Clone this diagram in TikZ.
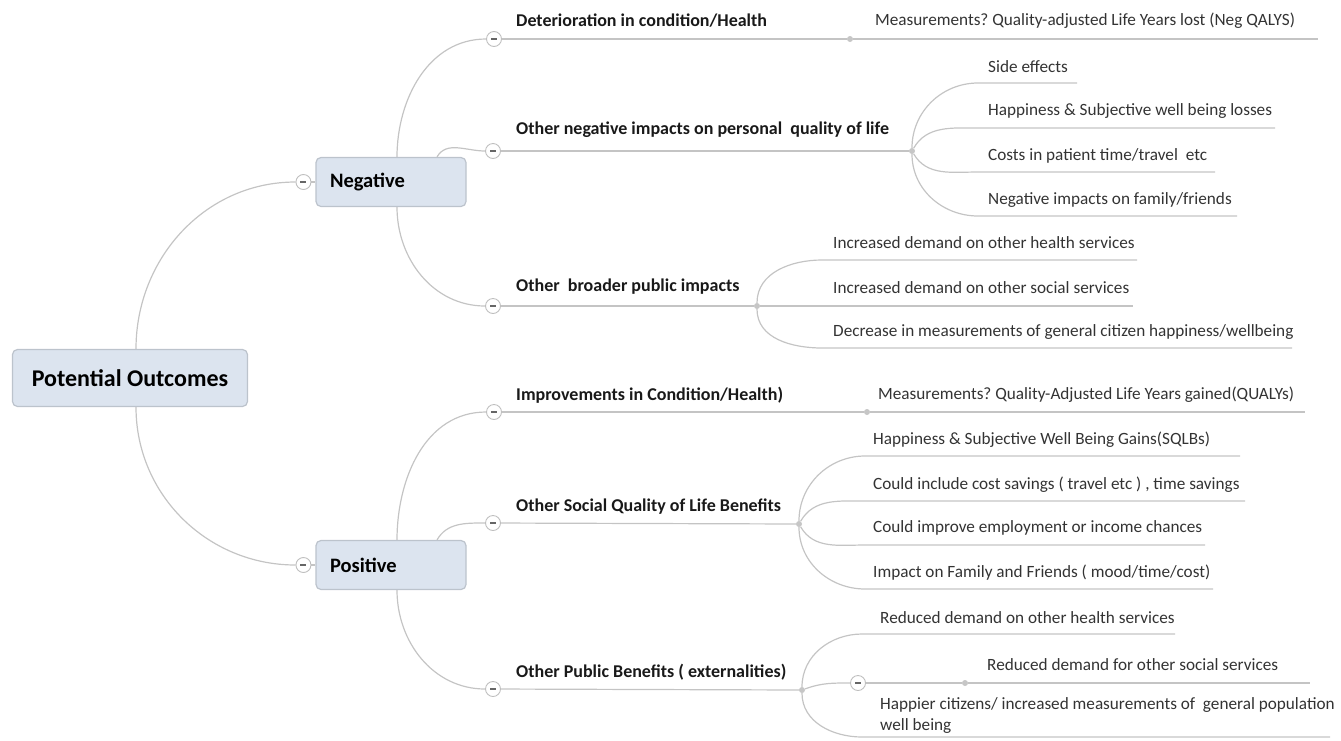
\documentclass[tikz,border=0pt]{standalone}
\usepackage{fontspec}
\setmainfont{Carlito}
\usetikzlibrary{positioning,calc}
\pgfdeclarelayer{bg}
\pgfsetlayers{bg,main}
\frenchspacing
\definecolor{boxfill}{HTML}{DCE4EF}
\definecolor{boxline}{HTML}{BCC3CC}
\definecolor{linkgray}{HTML}{C4C4C4}
\tikzstyle{rootbox} = [rectangle, rounded corners=5pt, draw=boxline, fill=boxfill, line width=1.2pt, font=\fontsize{24}{28}\selectfont\bfseries, minimum width=235pt, minimum height=57pt, inner sep=0pt]
\tikzstyle{sidebox} = [rectangle, rounded corners=5pt, draw=boxline, fill=boxfill, line width=1.2pt, font=\fontsize{20.5}{24}\selectfont\bfseries, minimum height=49pt, text width=122pt, inner xsep=14pt, inner ysep=0pt, align=left]
\tikzstyle{branch} = [font=\fontsize{18}{21}\selectfont\bfseries, text=black!90, inner sep=0pt, anchor=west]
\tikzstyle{leaf} = [font=\fontsize{17.2}{21}\selectfont, text=black!80, inner sep=0pt, anchor=west, align=left]
\tikzstyle{toggle} = [circle, draw=gray!50, fill=white, line width=0.9pt, minimum size=15pt, inner sep=0pt]
\tikzstyle{junction} = [circle, fill=gray!45, minimum size=6pt, inner sep=0pt]
\tikzstyle{link} = [draw=linkgray, line width=1.2pt]
\newcommand{\togglebar}{{\color{gray!80!black}\rule{6pt}{1.1pt}}}

\begin{document}
\begin{tikzpicture}[x=1pt, y=-1pt, node distance=10pt]
    \useasboundingbox (0,0) rectangle (1341,740);

    \node[rootbox] (root) at (130,378) {Potential Outcomes};

    \node[sidebox] (neg) at (391,182) {Negative};
    \node[toggle, left=4pt of neg] (negt) {\togglebar};
    \node[sidebox] (pos) at (391,565) {Positive};
    \node[toggle, left=4pt of pos] (post) {\togglebar};

    % negative side
    \node[toggle] (dett) at (494,39) {\togglebar};
    \node[branch] (det) at ($(dett)+(22,-18)$) {Deterioration in condition/Health};
    \node[junction] (detj) at (850,39) {};
    \coordinate (dete) at (1318,39);
    \node[leaf] (detm) at ($(detj)+(25,-18)$) {Measurements? Quality-adjusted Life Years lost (Neg QALYS)};

    \node[toggle] (onegt) at (493,151) {\togglebar};
    \node[branch] (oneg) at ($(onegt)+(23,-21)$) {Other negative impacts on personal\ \ quality of life};
    \node[junction] (onegj) at (912,151) {};
    \coordinate (se1) at (978,83);  \coordinate (se2) at (1077,83);
    \coordinate (hl1) at (978,128); \coordinate (hl2) at (1275,128);
    \coordinate (cp1) at (978,172); \coordinate (cp2) at (1215,172);
    \coordinate (ni1) at (978,216); \coordinate (ni2) at (1237,216);
    \node[leaf] (se) at ($(se1)+(10,-16)$) {Side effects};
    \node[leaf] (hl) at ($(hl1)+(10,-17)$) {Happiness \& Subjective well being losses};
    \node[leaf] (cp) at ($(cp1)+(10,-16)$) {Costs in patient time/travel\ \ etc};
    \node[leaf] (ni) at ($(ni1)+(10,-16)$) {Negative impacts on family/friends};

    \node[toggle] (brt) at (493,306) {\togglebar};
    \node[branch] (br) at ($(brt)+(23,-19)$) {Other\ \ broader public impacts};
    \node[junction] (brj) at (757,306) {};
    \coordinate (ih1) at (822,260); \coordinate (ih2) at (1137,260);
    \coordinate (is1) at (822,306); \coordinate (is2) at (1133,306);
    \coordinate (dm1) at (822,348); \coordinate (dm2) at (1292,348);
    \node[leaf] (ih) at ($(ih1)+(11,-17)$) {Increased demand on other health services};
    \node[leaf] (is) at ($(is1)+(11,-18)$) {Increased demand on other social services};
    \node[leaf] (dm) at ($(dm1)+(11,-16)$) {Decrease in measurements of general citizen happiness/wellbeing};

    % positive side
    \node[toggle] (impt) at (494,412) {\togglebar};
    \node[branch] (imp) at ($(impt)+(22,-17)$) {Improvements in Condition/Health)};
    \node[junction] (impj) at (867,412) {};
    \coordinate (impe) at (1305,412);
    \node[leaf] (impm) at ($(impj)+(11,-17)$) {Measurements? Quality-Adjusted Life Years gained(QUALYs)};

    \node[toggle] (soct) at (493,523) {\togglebar};
    \node[branch] (soc) at ($(soct)+(23,-16)$) {Other Social Quality of Life Benefits};
    \node[junction] (socj) at (799,524) {};
    \coordinate (hg1) at (865,456); \coordinate (hg2) at (1240,456);
    \coordinate (cs1) at (865,501); \coordinate (cs2) at (1245,501);
    \coordinate (ce1) at (865,545); \coordinate (ce2) at (1205,545);
    \coordinate (ff1) at (865,589); \coordinate (ff2) at (1213,589);
    \node[leaf] (hg) at ($(hg1)+(8,-16)$) {Happiness \& Subjective Well Being Gains(SQLBs)};
    \node[leaf] (cs) at ($(cs1)+(8,-16)$) {Could include cost savings ( travel etc ) , time savings};
    \node[leaf] (ce) at ($(ce1)+(8,-17)$) {Could improve employment or income chances};
    \node[leaf] (ff) at ($(ff1)+(8,-16)$) {Impact on Family and Friends ( mood/time/cost)};

    \node[toggle] (pubt) at (493,689) {\togglebar};
    \node[branch] (pub) at ($(pubt)+(23,-17)$) {Other Public Benefits ( externalities)};
    \node[junction] (pubj) at (802,690) {};
    \coordinate (rh1) at (862,634); \coordinate (rh2) at (1175,634);
    \node[toggle] (rst) at (858,683) {\togglebar};
    \node[junction] (rsj) at (965,683) {};
    \coordinate (rs2) at (1310,683);
    \coordinate (hc1) at (862,737); \coordinate (hc2) at (1330,737);
    \node[leaf] (rh) at ($(rh1)+(18,-16)$) {Reduced demand on other health services};
    \node[leaf] (rs) at ($(rsj)+(22,-18)$) {Reduced demand for other social services};
    \node[leaf] (hc) at ($(hc1)+(18,-22)$) {Happier citizens/ increased measurements of\ \ general population\\well being};

    \begin{pgfonlayer}{bg}
        \draw[link] ([xshift=6pt]root.north) to[out=90,in=180] (negt.west);
        \draw[link] ([xshift=6pt]root.south) to[out=-90,in=180] (post.west);
        \draw[link] (negt) -- (neg);
        \draw[link] (post) -- (pos);

        \draw[link] ([xshift=6pt]neg.north) to[out=90,in=180] (dett.west);
        \draw[link] ([xshift=46pt]neg.north) to[out=60,in=180] (onegt.west);
        \draw[link] ([xshift=6pt]neg.south) to[out=-90,in=180] (brt.west);
        \draw[link] ([xshift=6pt]pos.north) to[out=90,in=180] (impt.west);
        \draw[link] ([xshift=46pt]pos.north) to[out=60,in=180] (soct.west);
        \draw[link] ([xshift=6pt]pos.south) to[out=-90,in=180] (pubt.west);

        \draw[link] (dett) -- (detj) -- (dete);
        \draw[link] (onegt) -- (onegj);
        \draw[link] (onegj) to[out=90,in=180] (se1) -- (se2);
        \draw[link] (onegj) to[out=60,in=180] (hl1) -- (hl2);
        \draw[link] (onegj) to[out=-60,in=180] (cp1) -- (cp2);
        \draw[link] (onegj) to[out=-90,in=180] (ni1) -- (ni2);
        \draw[link] (brt) -- (brj);
        \draw[link] (brj) to[out=90,in=180] (ih1) -- (ih2);
        \draw[link] (brj) -- (is1) -- (is2);
        \draw[link] (brj) to[out=-90,in=180] (dm1) -- (dm2);

        \draw[link] (impt) -- (impj) -- (impe);
        \draw[link] (soct) -- (socj);
        \draw[link] (socj) to[out=90,in=180] (hg1) -- (hg2);
        \draw[link] (socj) to[out=60,in=180] (cs1) -- (cs2);
        \draw[link] (socj) to[out=-60,in=180] (ce1) -- (ce2);
        \draw[link] (socj) to[out=-90,in=180] (ff1) -- (ff2);
        \draw[link] (pubt) -- (pubj);
        \draw[link] (pubj) to[out=90,in=180] (rh1) -- (rh2);
        \draw[link] (pubj) to[out=20,in=180] (rst.west);
        \draw[link] (rst) -- (rsj) -- (rs2);
        \draw[link] (pubj) to[out=-90,in=180] (hc1) -- (hc2);
    \end{pgfonlayer}
\end{tikzpicture}
\end{document}
